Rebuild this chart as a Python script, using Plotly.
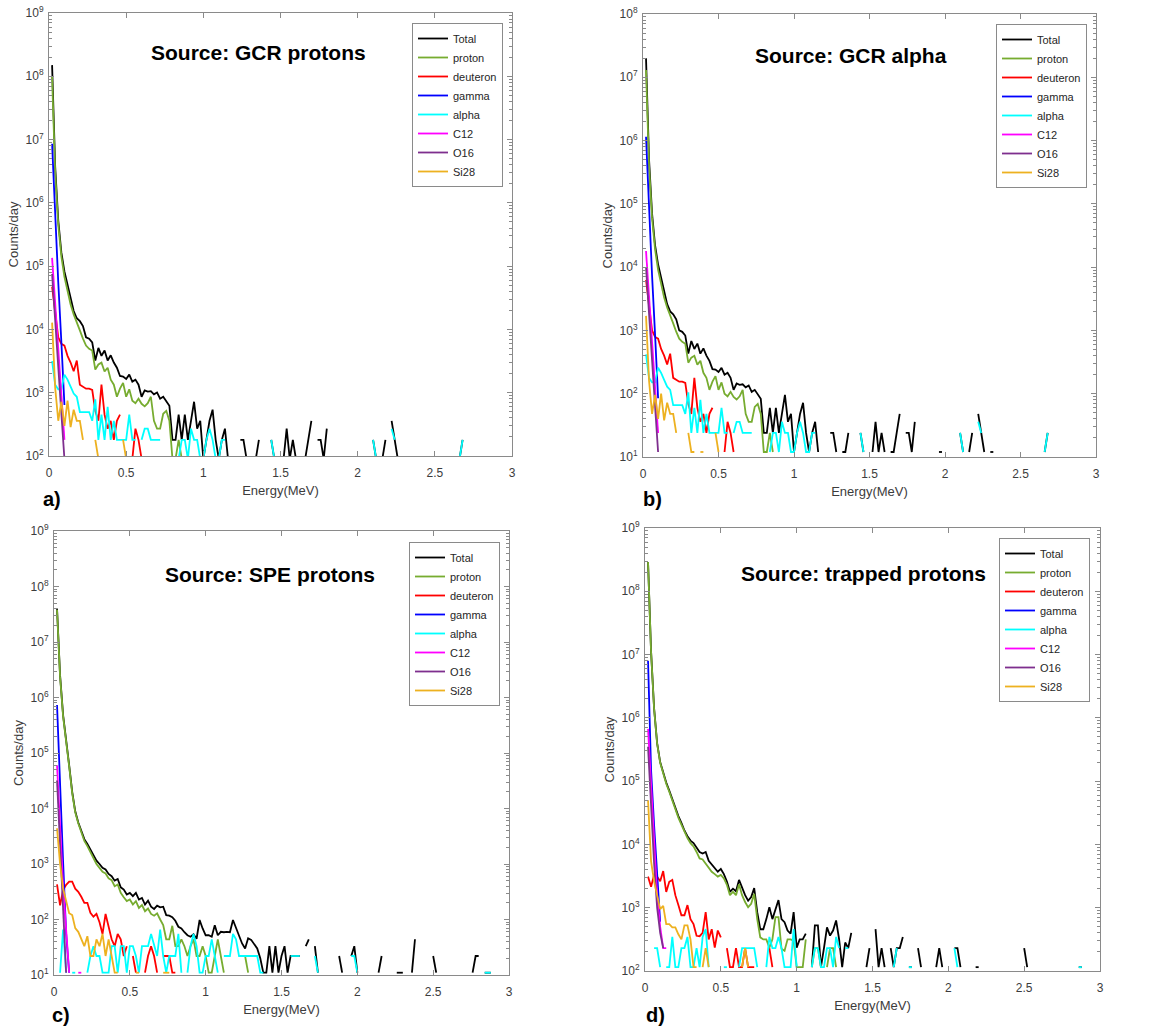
import plotly.graph_objects as go

N = None
# energy bin centres (MeV)
energy = [round(0.02 * k, 2) for k in range(1, 151)]

species = ["Total", "proton", "deuteron", "gamma", "alpha", "C12", "O16", "Si28"]
colors = ["#000000", "#77AC30", "#FF0000", "#0000FF", "#00FFFF", "#FF00FF", "#7E2F8E", "#EDB120"]

# ---------------- a) GCR protons ----------------
a_total = [1.5e8, 3.75e6, 5.25e5, 1.65e5, 8.25e4, 4.95e4, 2.93e4, 1.95e4, 1.5e4, 1.35e4,
           1.13e4, 7500, 7130, 6230, 3230, 5100, 3830, 4650, 3230, 3900,
           3000, 2480, 1840, 1800, 1650, 1930, 1500, 1610, 1340, 863,
           1090, 1040, 1060, 945, 1010, 803, 863, 720, 623, 180,
           180, 450, 180, 450, 180, 360, 720, 270, 360, 90,
           180, 360, 540, 180, 90, 180, 270, 90, N, N,
           N, 180, 180, 90, N, 90, 90, 180, N, N,
           N, 180, 90, N, N, 90, 270, 90, 180, 90,
           N, 90, 90, 180, 360, N, 180, 180, 90, 270,
           N, N, N, N, N, N, N, 90, 90, N,
           N, N, N, N, 180, 90, N, 90, 180, N,
           360, 180, 90, N, 90, 90, N, N, N, N] + [N] * 12 + [90, 180]
a_proton = [9.75e7, 3.0e6, 4.5e5, 1.43e5, 6.8e4, 3.9e4, 2.48e4, 1.73e4, 1.25e4, 9680,
            7160, 5550, 4950, 4630, 2320, 2790, 2990, 2160, 2480, 1610,
            1340, 863, 1160, 1430, 863, 1130, 750, 683, 803, 668,
            608, 683, 863, 360, 270, 270, 465, 518, 360, 90,
            90, 180, 90]
a_deuteron = [4.73e4, 1.68e4, 7500, 5930, 5550, 3830, 3000, 2180, 3230, 1340,
              1250, 1160, 1160, 1110, 518, 360, 1340, 450, 270, 360,
              180, 360, 450, N, N, N, 90, 270, 180, 90]
a_gamma = [8.6e6, 5.55e5, 5.55e4, 6380, 638]
a_alpha = [3150, 1340, 1130, 1130, 1930, 1610, 1250, 968, 863, 495,
           495, 495, 495, 360, 788, 180, 450, 180, 600, 180,
           360, 180, 180, 180, 180, 450, 180, 180, N, 180,
           270, 270, 180, 180, 180, 180, N, N, N, N,
           N, 90, 180, 180, 90, 270, 180, 180, 90, 90,
           180, 270, 180, 90, 90, 180, 180, N, N, N,
           N, N, N, N, N, N, N, N, N, N,
           N, 180, 90, N, N, N, N, N, N, N] + [N] * 24 + [180, 90, N, N, N, N, 270, 180] + [N] * 20 + [90, 180]
a_c12 = [1.35e5, 2.4e4, 4730, 945, 180]
a_o16 = [7.5e4, 1.2e4, 2400, 473, 90]
a_si28 = [1.28e4, 1200, 360, 720, 300, 750, 285, 540, 360, 360,
          180, N, N, N, 180, 90, 90, N, 90, 90,
          N, N, N, 180, 90]

# ---------------- b) GCR alpha ----------------
b_total = [2.0e7, 5.0e5, 7.0e4, 2.2e4, 1.1e4, 6.6e3, 3.9e3, 2.6e3, 2.0e3, 1.8e3,
           1.5e3, 1.0e3, 950, 830, 430, 680, 510, 620, 430, 520,
           400, 330, 245, 240, 220, 257, 200, 214, 178, 115,
           145, 138, 141, 126, 135, 107, 115, 96, 83, 24,
           24, 60, 24, 60, 24, 48, 96, 36, 48, 12,
           24, 48, 72, 24, 12, 24, 36, 12, N, N,
           N, 24, 24, 12, N, 12, 12, 24, N, N,
           N, 24, 12, N, N, 12, 36, 12, 24, 12,
           N, 12, 12, 24, 48, N, 24, 24, 12, 36,
           N, N, N, N, N, N, N, 12, 12, N,
           N, N, N, N, 24, 12, N, 12, 24, N,
           48, 24, 12, N, 12, 12, N, N, N, N] + [N] * 12 + [12, 24]
b_proton = [1.3e7, 4.0e5, 6.0e4, 1.9e4, 9.1e3, 5.2e3, 3.3e3, 2.3e3, 1.66e3, 1.29e3,
            955, 740, 660, 617, 309, 372, 398, 288, 331, 214,
            178, 115, 155, 190, 115, 151, 100, 91, 107, 89,
            81, 91, 115, 48, 36, 36, 62, 69, 48, 12,
            12, 24, 12]
b_deuteron = [6300, 2240, 1000, 790, 740, 510, 400, 290, 430, 178,
              166, 155, 155, 148, 69, 48, 178, 60, 36, 48,
              24, 48, 60, N, N, N, 12, 36, 24, 12]
b_gamma = [1.15e6, 7.4e4, 7.4e3, 850, 85]
b_alpha = [420, 178, 151, 151, 257, 214, 166, 129, 115, 66,
           66, 66, 66, 48, 105, 24, 60, 24, 80, 24,
           48, 24, 24, 24, 24, 60, 24, 24, N, 24,
           36, 36, 24, 24, 24, 24, N, N, N, N,
           N, 12, 24, 24, 12, 36, 24, 24, 12, 12,
           24, 36, 24, 12, 12, 24, 24, N, N, N,
           N, N, N, N, N, N, N, N, N, N,
           N, 24, 12, N, N, N, N, N, N, N] + [N] * 24 + [24, 12, N, N, N, N, 36, 24] + [N] * 20 + [12, 24]
b_c12 = [1.8e4, 3.2e3, 630, 126, 24]
b_o16 = [1.0e4, 1.6e3, 320, 63, 12]
b_si28 = [1700, 160, 48, 96, 40, 100, 38, 72, 48, 48,
          24, N, N, N, 24, 12, 12, N, 12, 12,
          N, N, N, 24, 12]

# ---------------- c) SPE protons ----------------
c_total = [4.0e7, 2.5e6, 4.8e5, 1.48e5, 6.0e4, 2.0e4, 8.9e3, 5.6e3, 3.8e3, 2.8e3,
           2.3e3, 1.82e3, 1.51e3, 1.15e3, 1.0e3, 851, 794, 661, 603, 501,
           537, 380, 347, 282, 302, 263, 302, 229, 245, 186,
           219, 170, 155, 178, 166, 170, 120, 117, 110, 95,
           74, 69, 59, 52, 49, 54, 45, 98, 69, 52,
           52, 49, 79, 52, 60, 59, 60, 59, 98, 69,
           49, 37, 30, 46, 43, 35, 30, 20, 11, 11,
           33, 11, 33, 11, 22, 33, 11, 22, 22, 22,
           22, N, 33, 44, N, 33, 11, N, N, N,
           N, N, N, 22, 11, N, N, 22, 33, 11,
           N, N, N, N, N, N, 11, 22, N, N,
           N, N, 11, 11, 11, N, N, 11, 44, N,
           N, N, N, N, 22, 11, N, N, N, N,
           N, N, N, N, N, N, N, 11, 22, 22,
           N, 11, 11, 11]
c_proton = [3.8e7, 2.4e6, 4.57e5, 1.41e5, 5.75e4, 1.9e4, 8.5e3, 5.4e3, 3.6e3, 2.6e3,
            2.1e3, 1.62e3, 1.32e3, 1.0e3, 851, 724, 676, 550, 513, 398,
            427, 302, 251, 214, 229, 186, 214, 162, 182, 141,
            158, 126, 117, 129, 100, 79, 44, 44, 77, 33,
            33, 44, 33, 22, 33, 44, 22, 22, 33, 22,
            11, 11, 22, 44, 22, 11, N, N, N, N,
            N, N, 22, 11]
c_deuteron = [430, 180, 340, 420, 480, 480, 360, 316, 257, 200,
              200, 132, 112, 126, 89, 55, 126, 77, 44, 33,
              55, 44, 22, 33, N, 22, 11, N, N, 11,
              22, 33, 22, 11, N, 22, 22, 22, 11, 11]
c_gamma = [7.3e5, 2.0e4, 1.1e3, 56, 11]
c_alpha = [N, 11, 66, 11, N, 11, 11, N, N, N,
           11, 22, 33, 22, 22, 11, 11, 11, 33, 33,
           11, 33, 33, 11, 33, 33, 22, 11, 33, 33,
           33, 55, 33, 22, 66, 22, 11, 22, 22, 22,
           55, 11, N, 11, 33, 55, 33, 11, 11, 22,
           22, 44, 22, 11, N, 22, 22, 22, 55, 44,
           22, 22, 22, 22, 22, 22, 22, 11, 11, N,
           N, N, N, N, N, N, N, 22, 22, 22,
           22, N, N, N, N, 22, 11, N, N, N,
           N, N, N, N, N, N, N, 22, 22, 11] + [N] * 41 + [11, 11, 11]
c_c12 = [6.0e4, 4.0e3, 400, 66, 11, N, N, 11, 11]
c_o16 = [3.2e4, 2.5e3, 180, 11]
c_si28 = [4400, 1000, 360, 210, 130, 120, 70, 60, 45, 33,
          50, 22, 22, 44, 33, 55, 22, 44, 22, 11,
          11, N, N, N, N, N, 11, 11, N, N,
          N, N, N, N, N, 11, 11, 11]

# ---------------- d) trapped protons ----------------
d_total = [2.9e8, 1.12e7, 1.41e6, 4.0e5, 2.0e5, 1.32e5, 9.5e4, 7.1e4, 5.1e4, 3.7e4,
           2.8e4, 2.2e4, 1.66e4, 1.35e4, 1.15e4, 1.05e4, 8.7e3, 7.6e3, 7.2e3, 7.6e3,
           5.5e3, 4.8e3, 4.1e3, 3.7e3, 4.1e3, 3.4e3, 2.6e3, 1.78e3, 2.0e3, 1.82e3,
           2.75e3, 2.04e3, 1.58e3, 1.29e3, 1.48e3, 2.04e3, 850, 457, 457, 660,
           1020, 660, 955, 1320, 660, 590, 436, 390, 850, 234,
           316, 316, 390, N, 115, 525, 525, 115, 230, 490,
           363, 436, 630, 316, 115, 282, 230, 400, N, N,
           N, N, 115, 230, N, 460, 115, 230, 115, N,
           230, 115, 230, 230, 345, N, 115, 115, N, 230,
           115, N, N, N, N, 115, 230, 115, N, N,
           N, 230, 230, 115, N, N, N, N, 115, 115] + [N] * 14 + [230, 115] + [N] * 16 + [115, 115]
d_proton = [2.9e8, 1.1e7, 1.38e6, 3.9e5, 1.95e5, 1.28e5, 9.1e4, 6.8e4, 4.9e4, 3.5e4,
            2.65e4, 2.05e4, 1.55e4, 1.26e4, 1.05e4, 9.3e3, 7.6e3, 6.0e3, 5.8e3, 5.0e3,
            4.4e3, 3.7e3, 3.4e3, 3.1e3, 3.3e3, 2.9e3, 2.3e3, 1.58e3, 1.78e3, 1.58e3,
            2.34e3, 1.58e3, 1.23e3, 1.02e3, 1.15e3, 1.66e3, 660, 340, 316, 316,
            234, 316, 708, 708, 224, 209, 316, 316, 302, 115,
            115, 115, 316, N, 115, 230, 230, 115, N, 115,
            230, 230, 115]
d_deuteron = [3100, 2140, 3300, 3100, 2630, 3800, 1780, 2570, 2750, 1580,
              1100, 760, 760, 1100, 660, 550, 360, 355, 400, 850,
              316, 457, 234, 436, 340, N, 230, 115, 115, 230,
              115, 115, 230, 115, 115, 115, N, N, N, N,
              230, 115]
d_gamma = [8.0e6, 1.5e5, 2.0e4, 3.5e3, 600]
d_alpha = [N, N, 230, 230, 115, N, 115, 115, 345, 115,
           115, 230, 230, 345, 115, 115, 230, 115, 345, 460,
           115, N, N, 115, N, 115, 115, N, N, N,
           115, 230, 230, 230, 230, 230, 115, N, N, 115,
           345, 230, 230, 345, 230, 115, 115, 115, 460, 115,
           N, N, N, N, 115, 230, 230, 115, 115, 230,
           230, 115, 345, 230, N, 230, 230, N, N, N,
           N, N, N, N, N, N, N, N, N, N,
           N, 115, 230, N, N, N, 115, 115, N, N] + [N] * 11 + [230, 115] + [N] * 39 + [115, 115]
d_c12 = [6.7e5, 1.0e5, 1.3e4, 1.6e3, 500, 230, 230]
d_o16 = [3.5e5, 4.0e4, 5.0e3, 1.0e3, 400, 230]
d_si28 = [5.0e4, 5.4e3, 2.6e3, 1.66e3, 950, 1070, 550, 550, 490, 490,
          380, 316, 525, 525, 316, 115, 115, N, 115, 230,
          115, N, N, N, N, N, N, N, N, N,
          N, 115, 230, 115]

panel_titles = ["Source: GCR protons", "Source: GCR alpha", "Source: SPE protons", "Source: trapped protons"]
panel_tags = ["a)", "b)", "c)", "d)"]
panel_series = [
    [a_total, a_proton, a_deuteron, a_gamma, a_alpha, a_c12, a_o16, a_si28],
    [b_total, b_proton, b_deuteron, b_gamma, b_alpha, b_c12, b_o16, b_si28],
    [c_total, c_proton, c_deuteron, c_gamma, c_alpha, c_c12, c_o16, c_si28],
    [d_total, d_proton, d_deuteron, d_gamma, d_alpha, d_c12, d_o16, d_si28],
]
y_decades = [(2, 9), (1, 8), (1, 9), (2, 9)]
x_ticks = [0, 0.5, 1, 1.5, 2, 2.5, 3]
x_ticktext = ["0", "0.5", "1", "1.5", "2", "2.5", "3"]

# layout geometry (paper fractions, figure 1160 x 1032)
W, H = 1160, 1032
boxes = [  # left, right, top, bottom in px
    (49, 512, 13, 456),
    (643, 1096, 14, 457),
    (54, 509, 531, 975),
    (645, 1100, 528, 971),
]
legend_pos = [(503, 23), (1087, 24), (500, 542), (1090, 538)]
title_pos = [(258, 53), (851, 56), (270, 574), (863, 573)]
tag_pos = [(52, 499), (652, 499), (61, 1015), (655, 1015)]

FONT = "Liberation Sans, Arial, sans-serif"
AX = "#8a8a8a"
TXT = "#3c3c3c"

fig = go.Figure()
layout = dict(width=W, height=H, margin=dict(l=0, r=0, t=0, b=0),
              paper_bgcolor="white", plot_bgcolor="white",
              font=dict(family=FONT, color=TXT), showlegend=True, annotations=[])

for i in range(4):
    sfx = "" if i == 0 else str(i + 1)
    xa, ya = "x" + sfx, "y" + sfx
    lg = "legend" + sfx
    for name, col, vals in zip(species, colors, panel_series[i]):
        fig.add_trace(go.Scatter(x=energy[:len(vals)], y=vals, mode="lines", name=name,
                                 line=dict(color=col, width=1.8), connectgaps=False,
                                 xaxis=xa, yaxis=ya, legend=lg, showlegend=True))
    l, r, t, b = boxes[i]
    lo, hi = y_decades[i]
    minor_vals = [m * 10 ** e for e in range(lo, hi) for m in range(2, 10)]
    layout["xaxis" + sfx] = dict(
        domain=[l / W, r / W], anchor=ya, range=[0, 3], tickvals=x_ticks, ticktext=x_ticktext,
        ticks="inside", ticklen=5, tickcolor=AX, showline=True, linecolor=AX, linewidth=1,
        mirror="ticks", showgrid=False, zeroline=False, automargin=False,
        tickfont=dict(size=12, color=TXT), ticklabelstandoff=6,
        title=dict(text="Energy(MeV)", font=dict(size=13, color=TXT), standoff=6))
    layout["yaxis" + sfx] = dict(
        domain=[1 - b / H, 1 - t / H], anchor=xa, type="log", range=[lo, hi],
        tickvals=[10 ** e for e in range(lo, hi + 1)],
        ticktext=["10<sup>%d</sup>" % e for e in range(lo, hi + 1)],
        ticks="inside", ticklen=5, tickcolor=AX, showline=True, linecolor=AX, linewidth=1,
        mirror="ticks", showgrid=False, zeroline=False, automargin=False,
        minor=dict(ticks="inside", ticklen=3, tickcolor=AX, tickvals=minor_vals, showgrid=False),
        tickfont=dict(size=12, color=TXT), ticklabelstandoff=2,
        title=dict(text="Counts/day", font=dict(size=13, color=TXT), standoff=4))
    lx, ly = legend_pos[i]
    layout[lg] = dict(x=lx / W, y=1 - ly / H, xanchor="right", yanchor="top",
                      bgcolor="white", bordercolor=AX, borderwidth=1,
                      font=dict(size=11, color="#262626", family=FONT),
                      tracegroupgap=0, itemwidth=30)
    tx, ty = title_pos[i]
    layout["annotations"].append(dict(text="<b>%s</b>" % panel_titles[i], x=tx / W, y=1 - ty / H,
                                      xref="paper", yref="paper", showarrow=False,
                                      xanchor="center", yanchor="middle",
                                      font=dict(size=21, color="black", family=FONT)))
    gx, gy = tag_pos[i]
    layout["annotations"].append(dict(text="<b>%s</b>" % panel_tags[i], x=gx / W, y=1 - gy / H,
                                      xref="paper", yref="paper", showarrow=False,
                                      xanchor="center", yanchor="middle",
                                      font=dict(size=20, color="black", family=FONT)))

fig.update_layout(**layout)
# remove the default 8px page margin so the figure sits at the window origin
fig.write_html("out.html", config={"displayModeBar": False},
               post_script="document.body.style.margin='0';document.body.style.overflow='hidden';")
